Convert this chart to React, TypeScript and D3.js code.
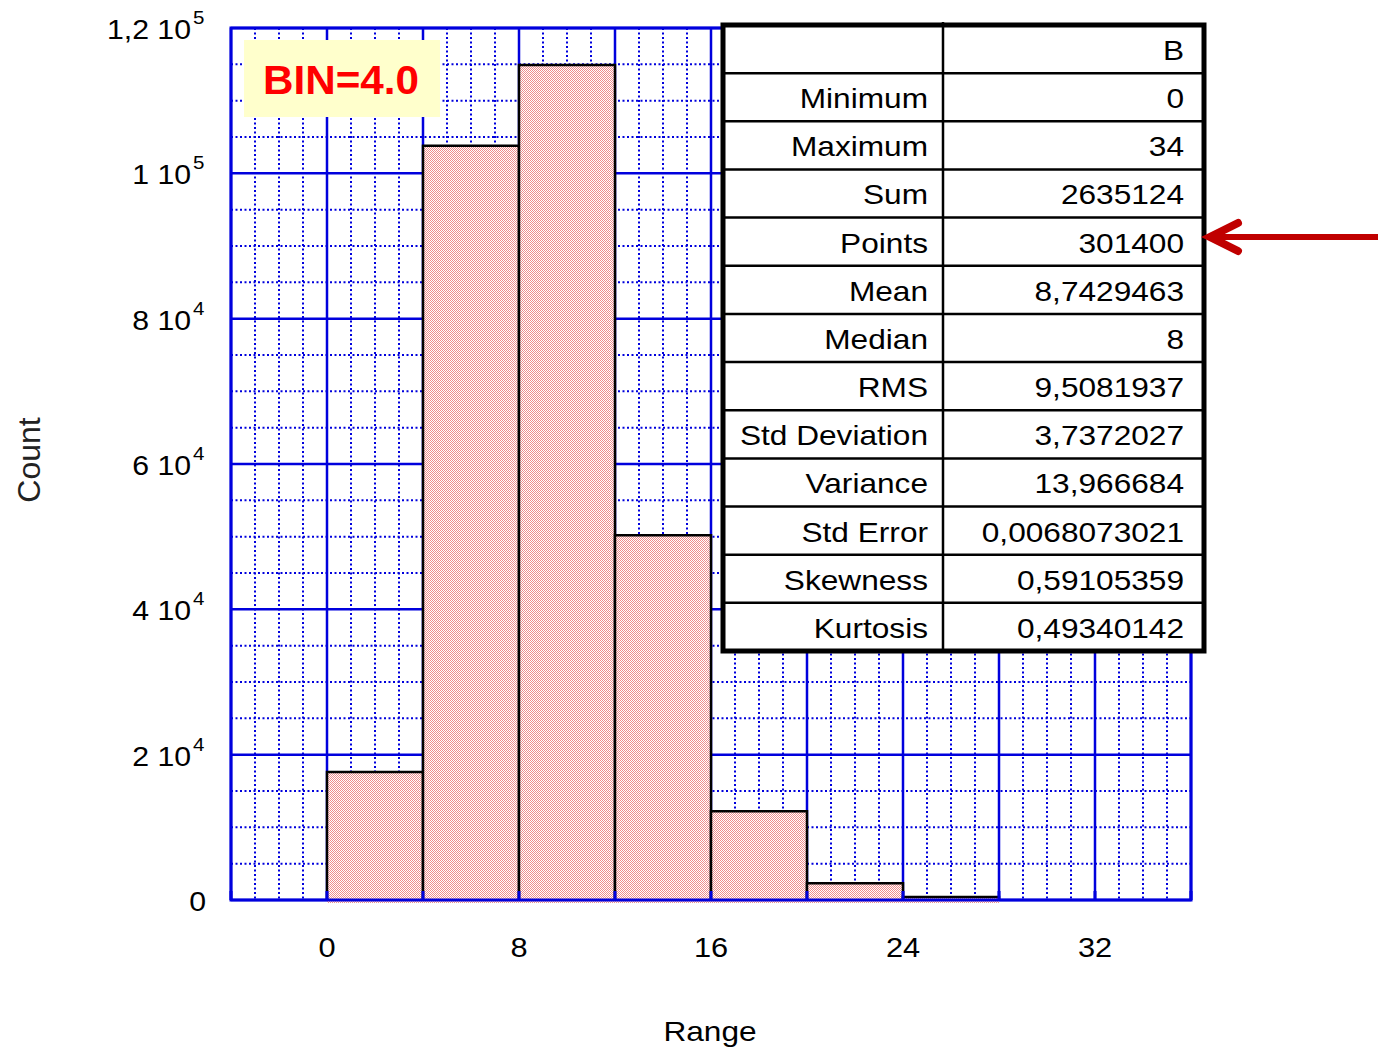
import React from "react";
import * as d3 from "d3";

const binStarts = [0, 4, 8, 12, 16, 20, 24];
const binWidth = 4;
const counts = [17600, 103800, 114900, 50200, 12200, 2300, 400];
const xTicks = [0, 8, 16, 24, 32];
const yTickValues = [0, 20000, 40000, 60000, 80000, 100000, 120000];
const yTickMantissa = ["0", "2", "4", "6", "8", "1", "1,2"];
const yTickExp = ["", "4", "4", "4", "4", "5", "5"];
const statNames = ["Minimum", "Maximum", "Sum", "Points", "Mean", "Median", "RMS", "Std Deviation", "Variance", "Std Error", "Skewness", "Kurtosis"];
const statValues = ["0", "34", "2635124", "301400", "8,7429463", "8", "9,5081937", "3,7372027", "13,966684", "0,0068073021", "0,59105359", "0,49340142"];
const columnHeader = "B";

const W = 1381, H = 1049;
const x = d3.scaleLinear().domain([-4, 36]).range([231, 1191]);
const y = d3.scaleLinear().domain([0, 120000]).range([900, 28]);
const BLUE = "#0000dd";
const FONT = "'Liberation Sans', Arial, sans-serif";

function T(props: { x: number; y: number; size: number; anchor?: string; sx?: number; fill?: string; weight?: string; children: React.ReactNode }) {
  const { x: tx, y: ty, size, anchor = "start", sx = 1.13, fill = "#000", weight = "normal", children } = props;
  return (
    <text transform={`translate(${tx},${ty}) scale(${sx},1)`} fontSize={size} textAnchor={anchor as any} fill={fill} fontWeight={weight}>
      {children}
    </text>
  );
}

export default function App() {
  const minorX = d3.range(-4, 37, 1).filter((v) => v % 4 !== 0);
  const majorX = d3.range(-4, 37, 4);
  const minorY = d3.range(0, 120001, 5000).filter((v) => v % 20000 !== 0);
  const majorY = d3.range(0, 120001, 20000);

  const tLeft = 723, tRight = 1204, tTop = 25, tBottom = 651, tDiv = 943;
  const nRows = statNames.length + 1;
  const rowH = (tBottom - tTop) / nRows;
  const rows = [["", columnHeader], ...statNames.map((n, i) => [n, statValues[i]])];

  return (
    <svg width={W} height={H} style={{ position: "absolute", left: 0, top: 0, background: "#fff" }} fontFamily={FONT}>
      <defs>
        <pattern id="chk" width="2" height="2" patternUnits="userSpaceOnUse">
          <rect width="2" height="2" fill="#ffffff" />
          <rect width="1" height="1" fill="#f08c8c" />
          <rect x="1" y="1" width="1" height="1" fill="#f08c8c" />
        </pattern>
      </defs>
      <rect x={0} y={0} width={W} height={H} fill="#fff" />
      {minorX.map((v) => (
        <line key={"mx" + v} x1={x(v)} x2={x(v)} y1={y(120000)} y2={y(0)} stroke={BLUE} strokeWidth={2} strokeDasharray="2,2.5" />
      ))}
      {minorY.map((v) => (
        <line key={"my" + v} x1={x(-4)} x2={x(36)} y1={y(v)} y2={y(v)} stroke={BLUE} strokeWidth={2} strokeDasharray="2,2.5" />
      ))}
      {majorX.map((v) => (
        <line key={"Mx" + v} x1={x(v)} x2={x(v)} y1={y(120000)} y2={y(0)} stroke={BLUE} strokeWidth={2.5} />
      ))}
      {majorY.map((v) => (
        <line key={"My" + v} x1={x(-4)} x2={x(36)} y1={y(v)} y2={y(v)} stroke={BLUE} strokeWidth={2.5} />
      ))}
      {binStarts.map((s, i) => (
        <g key={"b" + i}>
          <rect x={x(s)} y={y(counts[i])} width={x(s + binWidth) - x(s)} height={y(0) - y(counts[i]) + 3} fill="url(#chk)" />
          <path d={`M${x(s)},${y(0)}V${y(counts[i])}H${x(s + binWidth)}V${y(0)}`} fill="none" stroke="#000" strokeWidth={2.5} />
        </g>
      ))}
      <rect x={x(-4)} y={y(120000)} width={x(36) - x(-4)} height={y(0) - y(120000)} fill="none" stroke={BLUE} strokeWidth={3} />
      {majorX.map((v) => (
        <line key={"tk" + v} x1={x(v)} x2={x(v)} y1={y(0)} y2={y(0) - 9} stroke={BLUE} strokeWidth={3} />
      ))}
      {yTickValues.map((v, i) => (
        <T key={"yt" + v} x={yTickExp[i] ? 191 : 206} y={y(v) + 11} size={28} anchor="end" sx={1.08}>
          {yTickMantissa[i] + (yTickExp[i] ? " 10" : "")}
        </T>
      ))}
      {yTickValues.map((v, i) =>
        yTickExp[i] ? (
          <T key={"ye" + v} x={193} y={y(v) - 4} size={19} sx={1.08}>
            {yTickExp[i]}
          </T>
        ) : null
      )}
      {xTicks.map((v) => (
        <T key={"xt" + v} x={x(v)} y={957} size={28} anchor="middle" sx={1.1}>
          {v}
        </T>
      ))}
      <T x={710} y={1041} size={28} anchor="middle">Range</T>
      <text transform="translate(40,460) rotate(-90)" fontSize={32} textAnchor="middle" fill="#222">Count</text>
      <rect x={244} y={40} width={196} height={77} fill="#ffffcc" />
      <T x={341} y={94} size={41} weight="bold" anchor="middle" fill="#ff0000" sx={1.03}>BIN=4.0</T>
      <rect x={tLeft} y={tTop} width={tRight - tLeft} height={tBottom - tTop} fill="#fff" />
      {d3.range(1, nRows).map((r) => (
        <line key={"hl" + r} x1={tLeft} x2={tRight} y1={tTop + r * rowH} y2={tTop + r * rowH} stroke="#000" strokeWidth={2.5} />
      ))}
      <line x1={tDiv} x2={tDiv} y1={tTop - 3} y2={tBottom} stroke="#000" strokeWidth={2.5} />
      {rows.map((r, i) => (
        <g key={"row" + i}>
          <T x={928} y={tTop + i * rowH + 35} size={28} anchor="end">{r[0]}</T>
          <T x={1184} y={tTop + i * rowH + 35} size={28} anchor="end">{r[1]}</T>
        </g>
      ))}
      <rect x={tLeft} y={tTop} width={tRight - tLeft} height={tBottom - tTop} fill="none" stroke="#000" strokeWidth={5} />
      <line x1={1378} x2={1214} y1={237} y2={237} stroke="#c00000" strokeWidth={6} />
      <path d="M1238,223 L1210,237 L1238,251" fill="none" stroke="#c00000" strokeWidth={8} strokeLinecap="round" strokeLinejoin="miter" />
    </svg>
  );
}
